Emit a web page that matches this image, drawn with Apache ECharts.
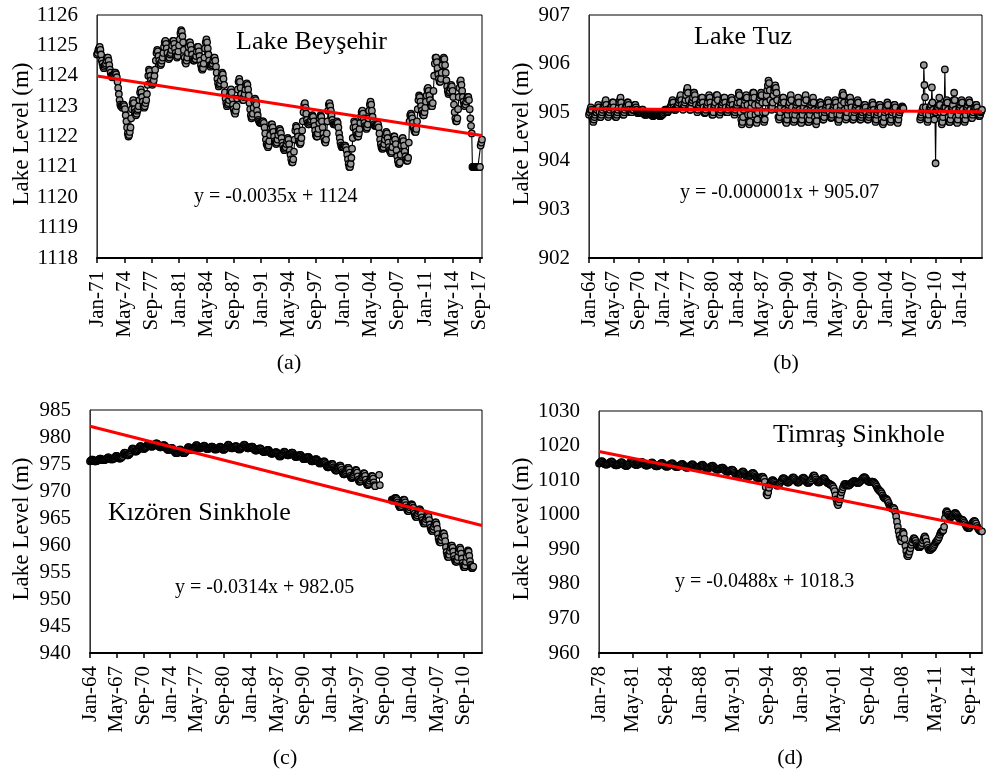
<!DOCTYPE html>
<html>
<head>
<meta charset="utf-8">
<script src="https://cdn.jsdelivr.net/npm/echarts@6/dist/echarts.min.js"></script>
<style>html,body{margin:0;padding:0;background:#fff}#c{width:986px;height:775px}</style>
</head>
<body>
<div id="c"></div>
<script>
// ---------- DATA (monthly lake levels, m) ----------
// Lake Beyşehir: Jan-1971 .. Dec-2017
const beysehirStart = 1971;
const beysehirLevels = [
1124.7,1124.75,1124.85,1124.9,1124.95,1124.85,1124.7,1124.5,1124.4,1124.3,1124.25,1124.3,
1124.35,1124.4,1124.5,1124.6,1124.6,1124.5,1124.35,1124.2,1124.1,1124.0,1123.95,1124.0,
1124.0,1124.05,1124.1,1124.1,1124.05,1123.95,1123.8,1123.6,1123.4,1123.2,1123.05,1123.0,
1123.0,1122.95,1123.0,1123.05,1123.0,1122.9,1122.7,1122.5,1122.3,1122.1,1122.0,1122.05,
1122.15,1122.3,1122.6,1122.9,1123.1,1123.2,1123.1,1122.9,1122.8,1122.7,1122.75,1122.85,
1122.9,1123.0,1123.2,1123.45,1123.55,1123.45,1123.3,1123.15,1123.0,1122.95,1123.0,1123.1,
1123.2,1123.4,1123.7,1124.0,1124.2,1124.15,1124.0,1123.85,1123.75,1123.7,1123.75,1123.85,
1124.0,1124.2,1124.5,1124.75,1124.85,1124.8,1124.65,1124.5,1124.4,1124.35,1124.4,1124.5,
1124.6,1124.75,1124.95,1125.1,1125.15,1125.05,1124.9,1124.75,1124.6,1124.55,1124.6,1124.7,
1124.75,1124.85,1125.0,1125.15,1125.15,1125.05,1124.9,1124.75,1124.65,1124.6,1124.65,1124.8,
1125.0,1125.2,1125.4,1125.5,1125.45,1125.3,1125.1,1124.85,1124.6,1124.45,1124.4,1124.5,
1124.6,1124.75,1124.95,1125.1,1125.1,1125.0,1124.85,1124.7,1124.55,1124.5,1124.5,1124.55,
1124.55,1124.65,1124.8,1124.95,1124.95,1124.8,1124.65,1124.5,1124.35,1124.25,1124.2,1124.25,
1124.4,1124.6,1124.9,1125.1,1125.2,1125.1,1124.9,1124.7,1124.5,1124.35,1124.3,1124.35,
1124.35,1124.4,1124.5,1124.6,1124.6,1124.5,1124.3,1124.1,1123.9,1123.75,1123.65,1123.7,
1123.75,1123.85,1124.0,1124.1,1124.05,1123.9,1123.7,1123.45,1123.25,1123.1,1123.0,1123.05,
1123.1,1123.2,1123.35,1123.5,1123.55,1123.45,1123.25,1123.05,1122.9,1122.8,1122.75,1122.85,
1123.0,1123.25,1123.55,1123.8,1123.9,1123.8,1123.6,1123.4,1123.25,1123.2,1123.2,1123.3,
1123.4,1123.55,1123.7,1123.75,1123.7,1123.55,1123.35,1123.1,1122.9,1122.7,1122.6,1122.65,
1122.75,1122.95,1123.15,1123.25,1123.2,1123.05,1122.85,1122.7,1122.55,1122.5,1122.45,1122.45,
1122.45,1122.45,1122.5,1122.5,1122.45,1122.3,1122.1,1121.9,1121.75,1121.7,1121.65,1121.7,
1121.85,1122.05,1122.3,1122.4,1122.4,1122.3,1122.15,1122.0,1121.85,1121.8,1121.75,1121.8,
1121.9,1122.05,1122.2,1122.25,1122.2,1122.1,1121.95,1121.8,1121.7,1121.6,1121.55,1121.6,
1121.65,1121.75,1121.85,1121.95,1121.9,1121.75,1121.55,1121.4,1121.25,1121.15,1121.15,1121.25,
1121.5,1121.9,1122.2,1122.35,1122.3,1122.15,1122.0,1121.85,1121.8,1121.75,1121.8,1121.95,
1122.2,1122.5,1122.8,1123.05,1123.1,1122.95,1122.75,1122.55,1122.45,1122.4,1122.4,1122.45,
1122.5,1122.55,1122.65,1122.7,1122.65,1122.5,1122.35,1122.2,1122.05,1122.0,1122.0,1122.1,
1122.25,1122.45,1122.6,1122.7,1122.65,1122.5,1122.3,1122.1,1121.95,1121.85,1121.8,1121.9,
1122.1,1122.5,1122.85,1123.05,1123.1,1123.0,1122.85,1122.7,1122.55,1122.45,1122.4,1122.4,
1122.4,1122.4,1122.45,1122.5,1122.45,1122.3,1122.1,1121.95,1121.8,1121.7,1121.65,1121.65,
1121.65,1121.65,1121.7,1121.7,1121.65,1121.55,1121.4,1121.25,1121.1,1121.0,1121.0,1121.1,
1121.3,1121.6,1121.95,1122.3,1122.5,1122.45,1122.3,1122.15,1122.05,1122.0,1122.0,1122.1,
1122.25,1122.45,1122.65,1122.8,1122.85,1122.75,1122.6,1122.45,1122.35,1122.3,1122.25,1122.3,
1122.4,1122.6,1122.85,1123.05,1123.15,1123.05,1122.85,1122.65,1122.5,1122.4,1122.35,1122.35,
1122.35,1122.35,1122.4,1122.4,1122.3,1122.1,1121.9,1121.75,1121.65,1121.6,1121.6,1121.65,
1121.75,1121.9,1122.05,1122.15,1122.1,1121.95,1121.8,1121.65,1121.55,1121.5,1121.45,1121.5,
1121.65,1121.85,1122.0,1122.0,1121.9,1121.75,1121.55,1121.35,1121.2,1121.1,1121.1,1121.15,
1121.4,1121.7,1121.9,1121.95,1121.85,1121.7,1121.5,1121.35,1121.25,1121.2,1121.2,1121.3,
1121.8,1122.5,1122.7,1122.75,1122.7,1122.6,1122.45,1122.3,1122.2,1122.15,1122.15,1122.25,
1122.5,1122.9,1123.2,1123.35,1123.3,1123.15,1123.0,1122.85,1122.75,1122.7,1122.7,1122.8,
1122.95,1123.15,1123.35,1123.55,1123.6,1123.5,1123.35,1123.2,1123.05,1123.0,1123.0,1123.1,
1123.5,1124.0,1124.4,1124.6,1124.6,1124.45,1124.25,1124.05,1123.9,1123.8,1123.8,1123.9,
1124.1,1124.35,1124.55,1124.6,1124.55,1124.35,1124.1,1123.85,1123.65,1123.5,1123.4,1123.45,
1123.5,1123.6,1123.7,1123.65,1123.5,1123.3,1123.05,1122.8,1122.6,1122.5,1122.5,1122.6,
1122.9,1123.3,1123.6,1123.8,1123.85,1123.7,1123.5,1123.3,1123.15,1123.05,1123.0,1123.05,
1123.15,1123.25,1123.3,1123.3,1123.2,1122.9,1122.6,1122.35,1122.1,1121.0,1121.0,1121.0,
1121.0,1121.0,1121.0,1121.0,1121.0,1121.0,1121.0,1121.0,1121.0,1121.7,1121.8,1121.9
];
const beysehirTrend = [1123.99, 1122.03];

// Lake Tuz: Jan-1964 .. Dec-2016
const tuzStart = 1964;
const tuzLevels = [
904.95,905.0,905.05,905.1,905.05,904.9,904.85,904.8,904.85,904.9,904.95,905.0,
905.0,905.05,905.1,905.15,905.1,905.0,904.9,904.9,904.95,905.0,905.05,905.1,
905.1,905.15,905.2,905.25,905.15,905.05,904.95,904.9,904.95,905.0,905.05,905.1,
905.1,905.15,905.2,905.2,905.1,905.0,904.95,904.9,904.9,904.95,905.0,905.05,
905.1,905.2,905.25,905.3,905.2,905.1,905.0,904.95,904.95,905.0,905.05,905.1,
905.1,905.15,905.2,905.2,905.15,905.05,905.0,905.0,905.0,905.0,905.05,905.05,
905.05,905.1,905.15,905.15,905.1,905.05,905.0,904.98,904.98,905.0,905.0,905.02,
905.0,905.02,905.05,905.05,905.0,904.97,904.95,904.95,904.95,904.95,904.97,904.98,
904.97,904.98,905.0,905.0,904.97,904.95,904.93,904.92,904.92,904.93,904.95,904.95,
904.95,904.95,904.97,904.97,904.95,904.93,904.92,904.92,904.92,904.93,904.95,904.96,
904.97,905.0,905.03,905.05,905.05,905.03,905.0,905.0,905.02,905.05,905.07,905.1,
905.1,905.15,905.2,905.25,905.2,905.1,905.05,905.05,905.05,905.08,905.1,905.12,
905.15,905.2,905.25,905.3,905.35,905.25,905.15,905.08,905.05,905.1,905.15,905.2,
905.25,905.35,905.45,905.5,905.4,905.25,905.1,905.05,905.05,905.1,905.2,905.25,
905.3,905.4,905.4,905.35,905.25,905.15,905.05,905.0,905.05,905.1,905.15,905.2,
905.2,905.25,905.3,905.3,905.2,905.1,905.0,904.98,905.0,905.05,905.1,905.15,
905.2,905.3,905.35,905.3,905.2,905.1,905.0,904.95,904.95,905.0,905.1,905.15,
905.2,905.3,905.35,905.35,905.25,905.1,905.0,904.95,905.0,905.05,905.1,905.15,
905.2,905.25,905.3,905.3,905.2,905.1,905.0,905.0,905.0,905.05,905.1,905.15,
905.2,905.25,905.3,905.25,905.15,905.05,905.0,904.95,905.0,905.05,905.1,905.15,
905.2,905.3,905.4,905.35,905.2,905.0,904.85,904.75,904.8,904.9,905.05,905.15,
905.25,905.3,905.35,905.3,905.15,904.95,904.8,904.75,904.8,904.95,905.1,905.2,
905.3,905.4,905.4,905.3,905.15,904.95,904.8,904.78,904.85,905.0,905.15,905.25,
905.3,905.35,905.4,905.35,905.2,905.0,904.85,904.8,904.85,905.0,905.2,905.35,
905.45,905.55,905.65,905.6,905.45,905.25,905.1,905.05,905.1,905.2,905.35,905.45,
905.5,905.55,905.5,905.4,905.25,905.05,904.9,904.85,904.9,905.0,905.1,905.2,
905.25,905.3,905.3,905.2,905.05,904.9,904.8,904.78,904.85,904.95,905.05,905.15,
905.2,905.3,905.35,905.25,905.1,904.95,904.82,904.8,904.85,904.95,905.05,905.15,
905.2,905.25,905.3,905.2,905.05,904.9,904.8,904.78,904.85,904.95,905.05,905.1,
905.2,905.3,905.35,905.25,905.05,904.9,904.8,904.8,904.85,904.95,905.05,905.15,
905.2,905.25,905.3,905.2,905.05,904.9,904.8,904.75,904.82,904.95,905.05,905.1,
905.15,905.2,905.2,905.15,905.05,904.95,904.85,904.85,904.9,905.0,905.05,905.1,
905.15,905.2,905.25,905.2,905.1,905.0,904.9,904.88,904.9,904.95,905.05,905.1,
905.15,905.2,905.25,905.2,905.1,904.95,904.85,904.8,904.85,904.95,905.05,905.15,
905.25,905.35,905.4,905.35,905.2,905.05,904.9,904.85,904.9,905.0,905.1,905.2,
905.25,905.3,905.3,905.2,905.1,904.95,904.85,904.85,904.9,905.0,905.05,905.1,
905.15,905.2,905.25,905.2,905.05,904.9,904.85,904.85,904.9,904.95,905.0,905.05,
905.1,905.15,905.15,905.1,905.0,904.9,904.85,904.85,904.9,904.95,905.0,905.05,
905.1,905.15,905.2,905.15,905.05,904.95,904.85,904.8,904.85,904.95,905.0,905.05,
905.1,905.15,905.15,905.1,904.95,904.85,904.78,904.75,904.8,904.9,905.0,905.05,
905.1,905.15,905.2,905.15,905.0,904.9,904.82,904.8,904.85,904.95,905.0,905.05,
905.1,905.15,905.15,905.1,904.95,904.85,904.8,904.78,904.85,904.95,905.0,905.05,
905.05,905.1,905.12,905.1,905.08,null,null,null,null,null,null,null,
null,null,null,null,null,null,null,null,null,null,null,null,
null,null,null,null,null,null,null,904.85,904.9,904.95,905.0,905.05,
905.1,905.97,905.56,905.31,905.1,904.95,904.85,904.8,904.85,904.95,905.05,905.1,
905.1,905.15,905.51,905.2,905.05,904.95,904.85,905.0,903.95,905.0,905.05,905.1,
905.1,905.15,905.3,905.15,905.0,904.85,904.75,904.8,904.9,905.0,905.1,905.88,
905.1,905.2,905.25,905.2,905.05,904.9,904.8,904.8,904.85,904.95,905.05,905.1,
905.15,905.25,905.4,905.25,905.05,904.9,904.8,904.78,904.85,904.95,905.05,905.1,
905.15,905.2,905.25,905.2,905.05,904.9,904.82,904.8,904.85,904.95,905.05,905.1,
905.15,905.2,905.25,905.2,905.05,904.95,904.88,904.88,904.95,905.0,905.05,905.1,
905.1,905.15,905.15,905.1,905.0,904.95,904.92,904.92,904.95,905.0,905.02,905.05
];
const tuzTrend = [905.07, 905.01];

// Kızören Sinkhole: Jan-1964 .. Dec-2012
const kizorenStart = 1964;
const kizorenLevels = [
975.5,975.6,975.7,975.8,975.8,975.7,975.6,975.5,975.5,975.5,975.6,975.6,
975.7,975.8,975.9,976.0,976.0,975.9,975.8,975.7,975.7,975.7,975.8,975.8,
975.9,976.0,976.1,976.2,976.2,976.1,976.0,975.9,975.85,975.85,975.9,976.0,
976.0,976.1,976.3,976.5,976.5,976.4,976.2,976.1,976.0,976.0,976.1,976.2,
976.3,976.5,976.8,977.0,977.1,977.0,976.8,976.7,976.6,976.6,976.7,976.8,
977.0,977.2,977.5,977.8,977.9,977.8,977.6,977.4,977.3,977.3,977.4,977.5,
977.7,977.9,978.1,978.3,978.3,978.2,978.0,977.9,977.8,977.8,977.9,978.0,
978.1,978.3,978.5,978.7,978.7,978.6,978.4,978.3,978.2,978.2,978.3,978.4,
978.5,978.6,978.7,978.8,978.8,978.7,978.5,978.3,978.2,978.1,978.1,978.2,
978.3,978.4,978.5,978.5,978.4,978.2,978.0,977.8,977.7,977.6,977.6,977.7,
977.8,977.9,978.0,978.0,977.8,977.6,977.4,977.2,977.1,977.0,977.0,977.1,
977.2,977.4,977.6,977.7,977.6,977.4,977.2,977.1,977.0,977.0,977.1,977.2,
977.4,977.6,977.9,978.1,978.1,978.0,977.8,977.7,977.6,977.6,977.7,977.8,
977.9,978.1,978.3,978.5,978.5,978.3,978.1,978.0,977.9,977.9,978.0,978.1,
978.1,978.2,978.3,978.4,978.3,978.1,977.9,977.8,977.8,977.8,977.9,978.0,
978.0,978.1,978.2,978.2,978.1,977.9,977.8,977.7,977.7,977.7,977.8,977.9,
977.9,978.0,978.1,978.2,978.1,978.0,977.8,977.7,977.6,977.7,977.8,977.9,
978.0,978.2,978.4,978.6,978.5,978.3,978.1,978.0,977.9,977.9,978.0,978.1,
978.1,978.2,978.3,978.3,978.2,978.0,977.8,977.7,977.7,977.8,977.9,978.0,
978.1,978.3,978.5,978.6,978.5,978.3,978.1,978.0,977.9,977.9,978.0,978.0,
978.0,978.1,978.2,978.2,978.1,977.9,977.7,977.6,977.5,977.5,977.6,977.7,
977.7,977.8,977.9,977.9,977.8,977.6,977.4,977.3,977.2,977.2,977.3,977.3,
977.4,977.5,977.6,977.6,977.5,977.3,977.1,977.0,976.9,976.9,977.0,977.0,
977.0,977.1,977.2,977.2,977.1,976.9,976.7,976.5,976.4,976.4,976.5,976.6,
976.8,977.0,977.2,977.3,977.2,977.0,976.8,976.7,976.6,976.6,976.7,976.8,
976.9,977.0,977.1,977.1,977.0,976.8,976.6,976.4,976.3,976.3,976.4,976.4,
976.5,976.6,976.7,976.7,976.6,976.4,976.2,976.0,975.9,975.9,976.0,976.0,
976.1,976.2,976.3,976.3,976.2,976.0,975.8,975.6,975.5,975.5,975.6,975.6,
975.7,975.8,975.9,975.9,975.8,975.6,975.4,975.2,975.1,975.1,975.2,975.2,
975.3,975.4,975.5,975.5,975.3,975.0,974.7,974.5,974.4,974.4,974.5,974.6,
974.6,974.8,975.0,975.0,974.8,974.4,974.1,973.9,973.8,973.8,973.9,974.1,
974.3,974.5,974.7,974.7,974.4,973.9,973.5,973.2,973.1,973.1,973.3,973.5,
973.8,974.1,974.3,974.3,974.0,973.4,972.8,972.5,972.4,972.5,972.7,973.0,
973.4,973.7,973.9,973.8,973.4,972.7,972.1,971.8,971.7,971.8,972.1,972.5,
972.8,973.1,973.3,973.2,972.8,972.1,971.5,971.2,971.1,971.2,971.5,971.9,
972.3,972.6,972.8,972.7,972.3,971.6,971.1,970.9,null,null,null,null,
null,973.0,971.1,null,null,null,null,null,null,null,null,null,
null,null,null,null,null,null,null,null,968.4,968.2,968.3,968.5,
968.6,968.7,968.7,968.6,968.3,967.9,967.5,967.2,967.0,967.0,967.2,967.6,
968.0,968.3,968.4,968.3,967.9,967.4,966.9,966.5,966.3,966.3,966.6,967.0,
967.3,967.5,967.5,967.3,966.9,966.3,965.8,965.4,965.2,965.2,965.5,965.9,
966.3,966.6,966.6,966.3,965.8,965.1,964.6,964.2,964.0,964.0,964.3,964.8,
965.2,965.5,965.5,965.2,964.6,963.8,963.2,962.8,962.6,962.6,962.9,963.4,
963.9,964.2,964.2,963.8,963.0,962.0,961.2,960.7,960.5,960.5,960.9,961.5,
962.0,962.2,962.1,961.6,960.7,959.6,958.7,958.1,957.8,957.8,958.2,958.9,
959.5,959.9,959.9,959.5,958.8,958.0,957.4,957.0,956.9,956.9,957.2,957.8,
958.8,959.3,959.5,959.2,958.4,957.5,956.7,956.2,955.9,955.9,956.2,956.9,
957.8,958.6,959.0,958.8,958.0,957.0,956.3,955.9,955.7,955.8,956.0,null,
null,null,null,null,null,null,null,null,null,null,null,null
];
const kizorenTrend = [982.0, 963.6];

// Timraş Sinkhole: Jan-1978 .. Dec-2015
const timrasStart = 1978;
const timrasLevels = [
1014.8,1015.0,1015.3,1015.5,1015.4,1015.1,1014.8,1014.6,1014.5,1014.5,1014.6,1014.8,
1014.9,1015.1,1015.3,1015.4,1015.2,1014.9,1014.6,1014.4,1014.3,1014.3,1014.4,1014.6,
1014.7,1014.9,1015.1,1015.2,1015.0,1014.7,1014.4,1014.2,1014.1,1014.1,1014.3,1014.5,
1014.8,1015.1,1015.4,1015.6,1015.4,1015.1,1014.7,1014.5,1014.4,1014.4,1014.5,1014.7,
1014.8,1015.0,1015.2,1015.3,1015.1,1014.8,1014.5,1014.3,1014.2,1014.2,1014.3,1014.5,
1014.6,1014.8,1015.0,1015.1,1014.9,1014.6,1014.3,1014.1,1014.0,1014.0,1014.1,1014.3,
1014.5,1014.7,1014.9,1015.0,1014.8,1014.5,1014.2,1014.0,1013.9,1013.9,1014.0,1014.2,
1014.4,1014.6,1014.8,1014.9,1014.7,1014.4,1014.1,1013.9,1013.8,1013.8,1013.9,1014.1,
1014.2,1014.4,1014.6,1014.7,1014.5,1014.2,1013.9,1013.7,1013.6,1013.6,1013.7,1013.9,
1014.1,1014.3,1014.5,1014.6,1014.4,1014.1,1013.8,1013.6,1013.5,1013.5,1013.6,1013.8,
1014.0,1014.2,1014.4,1014.5,1014.3,1014.0,1013.7,1013.5,1013.4,1013.3,1013.4,1013.6,
1013.8,1014.0,1014.1,1014.2,1014.0,1013.7,1013.4,1013.2,1013.1,1013.0,1013.1,1013.2,
1013.4,1013.5,1013.6,1013.6,1013.4,1013.1,1012.8,1012.6,1012.5,1012.4,1012.5,1012.6,
1012.8,1012.9,1013.0,1012.9,1012.6,1012.2,1011.8,1011.5,1011.3,1011.2,1011.3,1011.5,
1011.8,1012.1,1012.4,1012.5,1012.3,1011.9,1011.5,1011.2,1011.0,1010.9,1011.0,1011.2,
1011.5,1011.8,1012.0,1012.1,1011.9,1011.5,1011.1,1010.8,1010.6,1010.5,1010.6,1010.8,
1010.6,1010.8,1011.0,1010.9,1010.4,1009.5,1008.0,1006.0,1005.6,1006.5,1007.8,1008.8,
1009.4,1009.8,1010.0,1009.9,1009.6,1009.2,1008.8,1008.5,1008.4,1008.5,1008.8,1009.2,
1009.6,1010.0,1010.4,1010.6,1010.5,1010.2,1009.8,1009.5,1009.3,1009.3,1009.5,1009.8,
1010.1,1010.4,1010.7,1010.8,1010.6,1010.2,1009.8,1009.5,1009.3,1009.3,1009.5,1009.8,
1010.1,1010.4,1010.6,1010.7,1010.5,1010.1,1009.7,1009.4,1009.2,1009.2,1009.4,1009.7,
1010.0,1010.5,1011.0,1011.4,1011.3,1010.8,1010.2,1009.7,1009.4,1009.3,1009.4,1009.6,
1009.9,1010.2,1010.5,1010.6,1010.4,1010.0,1009.6,1009.3,1009.1,1009.0,1008.9,1008.7,
1008.6,1008.4,1008.1,1007.6,1006.8,1005.6,1004.4,1003.3,1002.8,1003.6,1004.5,1005.5,
1006.5,1007.3,1008.0,1008.6,1008.9,1008.9,1008.7,1008.5,1008.4,1008.5,1008.7,1009.0,
1009.2,1009.4,1009.6,1009.8,1009.7,1009.5,1009.3,1009.2,1009.2,1009.3,1009.5,1009.8,
1010.1,1010.4,1010.7,1010.9,1010.8,1010.5,1010.1,1009.8,1009.6,1009.5,1009.5,1009.4,
1009.6,1009.6,1009.5,1009.3,1009.0,1008.6,1008.1,1007.6,1007.3,1007.0,1006.8,1006.6,
1006.2,1005.6,1005.1,1004.8,1004.7,1004.6,1004.4,1004.0,1003.4,1002.8,1002.3,1002.0,
1001.8,1001.9,1002.0,1001.6,1000.8,999.5,998.0,996.5,995.2,994.0,993.0,992.3,
993.5,995.0,994.5,993.0,991.0,989.5,988.3,988.0,988.5,989.3,990.3,991.3,
992.0,992.8,993.2,993.0,992.5,991.8,991.2,990.8,990.6,990.6,990.8,991.2,
991.8,992.6,993.3,993.7,993.2,992.2,991.2,990.4,989.9,989.8,989.9,990.2,
990.3,990.6,991.0,991.5,992.0,992.3,992.6,993.0,993.5,994.2,994.8,995.2,
995.3,995.5,996.5,999.0,1000.6,1001.0,1000.6,1000.0,999.6,999.3,999.3,999.5,
999.7,1000.0,1000.3,1000.5,1000.4,1000.0,999.6,999.2,998.9,998.7,998.6,998.6,
998.5,998.2,997.8,997.3,996.8,996.4,996.2,996.1,996.2,996.5,996.9,997.4,
997.8,998.1,998.2,998.0,997.5,996.8,996.2,995.8,995.5,995.3,995.2,995.2
];
const timrasTrend = [1018.3, 996.0];

const titles = ['Lake Beyşehir', 'Lake Tuz', 'Kızören Sinkhole', 'Timraş Sinkhole'];
const equations = ['y = -0.0035x + 1124', 'y = -0.000001x + 905.07', 'y = -0.0314x + 982.05', 'y = -0.0488x + 1018.3'];
const panelLetters = ['(a)', '(b)', '(c)', '(d)'];
const yRanges = [[1118, 1126, 1], [902, 907, 1], [940, 985, 5], [960, 1030, 10]];
const yName = 'Lake Level (m)';

// ---------- BUILD ----------
const MONTHS = ['Jan','Feb','Mar','Apr','May','Jun','Jul','Aug','Sep','Oct','Nov','Dec'];
function monthLabels(startYear, count) {
  const out = [];
  for (let i = 0; i < count; i++) {
    const y = (startYear + Math.floor(i / 12)) % 100;
    out.push(MONTHS[i % 12] + '-' + String(y).padStart(2, '0'));
  }
  return out;
}
const panels = [
  { start: beysehirStart, levels: beysehirLevels, trend: beysehirTrend },
  { start: tuzStart, levels: tuzLevels, trend: tuzTrend },
  { start: kizorenStart, levels: kizorenLevels, trend: kizorenTrend },
  { start: timrasStart, levels: timrasLevels, trend: timrasTrend }
];

const FONT = '"Liberation Serif", "Times New Roman", serif';
const grids = [
  { left: 97, top: 15, width: 385, height: 243 },
  { left: 589, top: 15, width: 393, height: 243 },
  { left: 90, top: 410, width: 392, height: 243 },
  { left: 599, top: 411, width: 383, height: 242 }
];
const titlePos = [[236, 42], [694, 37], [108, 513], [773, 435]];
const eqPos = [[194, 197], [680, 193], [175, 588], [675, 582]];
const letterPos = [[289, 363], [786, 363], [285, 758], [790, 758]];
const yNamePos = [[22, 134], [522, 134], [22, 529], [522, 529]];

const option = {
  animation: false,
  backgroundColor: '#fff',
  grid: grids.map(g => Object.assign({ show: true, borderColor: '#000', borderWidth: 1, backgroundColor: 'transparent' }, g)),
  xAxis: panels.map((p, i) => ({
    type: 'category', gridIndex: i, boundaryGap: false,
    data: monthLabels(p.start, p.levels.length),
    axisLine: { lineStyle: { color: '#000', width: 2 } },
    axisTick: { interval: 39, length: 5, lineStyle: { color: '#000', width: 1.5 } },
    axisLabel: { interval: 39, rotate: 90, margin: 13, fontFamily: FONT, fontSize: 21, color: '#000' },
    splitLine: { show: false }
  })),
  yAxis: yRanges.map((r, i) => ({
    type: 'value', gridIndex: i, min: r[0], max: r[1], interval: r[2],
    axisLine: { show: true, lineStyle: { color: '#333', width: 1 } },
    axisTick: { show: false },
    axisLabel: { margin: 19, fontFamily: FONT, fontSize: 21, color: '#000', formatter: v => String(v) },
    splitLine: { show: false }
  })),
  series: [],
  graphic: []
};

panels.forEach((p, i) => {
  option.series.push({
    type: 'line', xAxisIndex: i, yAxisIndex: i, data: p.levels,
    symbol: 'circle', symbolSize: 6.5, showAllSymbol: true, connectNulls: false,
    lineStyle: { color: '#000', width: 1.1 },
    itemStyle: { color: '#9a9a9a', borderColor: '#000', borderWidth: 1.3 },
    emphasis: { disabled: true }, z: 2
  });
  option.series.push({
    type: 'line', xAxisIndex: i, yAxisIndex: i,
    data: [[0, p.trend[0]], [p.levels.length - 1, p.trend[1]]],
    symbol: 'none', lineStyle: { color: '#ff0000', width: 3 }, z: 3, silent: true
  });
  option.graphic.push({ type: 'text', x: titlePos[i][0], y: titlePos[i][1], z: 10,
    style: { text: titles[i], font: '26px ' + FONT, fill: '#000', textAlign: 'left', textVerticalAlign: 'middle' } });
  option.graphic.push({ type: 'text', x: eqPos[i][0], y: eqPos[i][1], z: 10,
    style: { text: equations[i], font: '20px ' + FONT, fill: '#000', textAlign: 'left', textVerticalAlign: 'middle' } });
  option.graphic.push({ type: 'text', x: letterPos[i][0], y: letterPos[i][1], z: 10,
    style: { text: panelLetters[i], font: '22px ' + FONT, fill: '#000', textAlign: 'center', textVerticalAlign: 'middle' } });
  option.graphic.push({ type: 'text', x: yNamePos[i][0], y: yNamePos[i][1], rotation: Math.PI / 2, z: 10,
    style: { text: yName, font: '23px ' + FONT, fill: '#000', textAlign: 'center', textVerticalAlign: 'middle' } });
});

const chart = echarts.init(document.getElementById('c'), null, { renderer: 'canvas' });
chart.setOption(option);
</script>
</body>
</html>
